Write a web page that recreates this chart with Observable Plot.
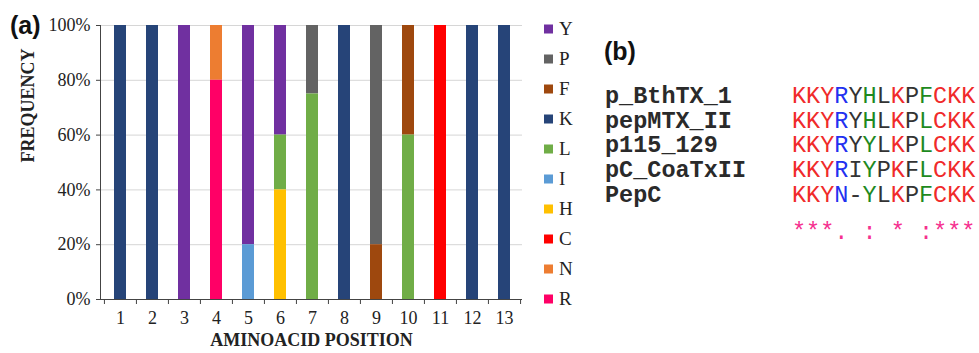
<!DOCTYPE html>
<html><head><meta charset="utf-8">
<script src="https://cdn.jsdelivr.net/npm/d3@7"></script>
<script src="https://cdn.jsdelivr.net/npm/@observablehq/plot@0.6"></script>
<style>
body{margin:0;background:#fff;}
#wrap{position:relative;width:979px;height:353px;overflow:hidden;background:#fff;}
#chart{position:absolute;left:0;top:0;}
#overlay{position:absolute;left:0;top:0;}
.panel-label{position:absolute;font-family:"Liberation Sans",Arial,sans-serif;font-weight:bold;font-size:25px;line-height:1;color:#111;}
</style></head><body>
<div id="wrap">
  <div id="chart"></div>
  <svg id="overlay" width="979" height="353"></svg>
  <div class="panel-label" style="left:10px;top:13px">(a)</div>
  <div class="panel-label" style="left:604px;top:39px">(b)</div>
</div>
<script>
// ---- Panel (a) data ----
const positions = [1,2,3,4,5,6,7,8,9,10,11,12,13];
const aminoAcids = ["Y","P","F","K","L","I","H","C","N","R"]; // legend order
const freqY = [0,0,100,0,80,40,0,0,0,0,0,0,0];
const freqP = [0,0,0,0,0,0,25,0,80,0,0,0,0];
const freqF = [0,0,0,0,0,0,0,0,20,40,0,0,0];
const freqK = [100,100,0,0,0,0,0,100,0,0,0,100,100];
const freqL = [0,0,0,0,0,20,75,0,0,60,0,0,0];
const freqI = [0,0,0,0,20,0,0,0,0,0,0,0,0];
const freqH = [0,0,0,0,0,40,0,0,0,0,0,0,0];
const freqC = [0,0,0,0,0,0,0,0,0,0,100,0,0];
const freqN = [0,0,0,20,0,0,0,0,0,0,0,0,0];
const freqR = [0,0,0,80,0,0,0,0,0,0,0,0,0];
const yTicks = [0,20,40,60,80,100];

// ---- Panel (b) data ----
const seqNames = ["p_BthTX_1","pepMTX_II","p115_129","pC_CoaTxII","PepC"];
const sequences = ["KKYRYHLKPFCKK","KKYRYHLKPLCKK","KKYRYYLKPLCKK","KKYRIYPKFLCKK","KKYN-YLKPFCKK"];
const conservation = "***. : * :***";

// ---- styles ----
const aaColors = ["#7030a0","#636363","#9e480e","#264478","#70ad47","#5b9bd5","#ffc000","#ff0000","#ed7d31","#ff0066"];
const colClass = ["r","r","r","b","k","g","k","r","k","g","r","r","r"];
const classColor = {r:"#f02a2a", b:"#2230f0", g:"#1e8a1e", k:"#333"};

const freqByAA = {Y:freqY,P:freqP,F:freqF,K:freqK,L:freqL,I:freqI,H:freqH,C:freqC,N:freqN,R:freqR};
const table = [];
positions.forEach((p, i) => aminoAcids.forEach(aa => {
  const v = freqByAA[aa][i];
  if (v > 0) table.push({pos: p, aa, freq: v});
}));
const stackOrder = aminoAcids.slice().reverse();

const rangeLeft = 103, rangeRight = 521;
const step = (rangeRight - rangeLeft) / positions.length;

const chart = Plot.plot({
  width: 540, height: 353,
  marginLeft: 100, marginRight: 18, marginTop: 25, marginBottom: 54,
  style: {fontFamily: "Liberation Serif", fontSize: "18px", color: "#222", background: "transparent"},
  x: {domain: positions, insetLeft: 3, insetRight: 1, paddingInner: 0.62, paddingOuter: 0.31, label: null},
  y: {domain: [0, 100], label: null},
  color: {domain: aminoAcids, range: aaColors},
  marks: [
    Plot.gridY({ticks: yTicks.slice(1), stroke: "#d6d6d6", strokeOpacity: 1}),
    Plot.barY(table, {x: "pos", y: "freq", fill: "aa", order: stackOrder}),
    Plot.ruleY([0], {stroke: "#444"}),
    Plot.frame({anchor: "left", stroke: "#444"}),
    Plot.axisY({ticks: yTicks, tickFormat: d => d + "%", tickSize: 4, tickPadding: 6, fontSize: 18, label: null, stroke: "#444"}),
    Plot.axisX({tickSize: 0, tickPadding: 12, fontSize: 18, label: null}),
    Plot.axisX({tickSize: 5, tickFormat: () => "", dx: -step / 2, label: null, stroke: "#444"}),
    Plot.axisX({ticks: [positions[positions.length - 1]], tickSize: 5, tickFormat: () => "", dx: step / 2, label: null, stroke: "#444"}),
    Plot.text(["FREQUENCY"], {frameAnchor: "left", rotate: -90, dx: -72, fontWeight: "bold", fontSize: 18, fill: "#222"}),
    Plot.text(["AMINOACID POSITION"], {frameAnchor: "bottom", dy: 46, fontWeight: "bold", fontSize: 18, fill: "#222"})
  ]
});
document.getElementById("chart").append(chart);

// ---- legend and alignment overlay ----
const svg = d3.select("#overlay");
const lg = svg.append("g");
aminoAcids.forEach((aa, i) => {
  const cy = 29 + i * 30;
  lg.append("rect").attr("x", 544).attr("y", cy - 4.5).attr("width", 9).attr("height", 9).attr("fill", aaColors[i]);
  lg.append("text").attr("x", 559).attr("y", cy).attr("dy", "0.34em")
    .style("font-family", "Liberation Serif").style("font-size", "19px").attr("fill", "#222").text(aa);
});

const rowTop = 103, rowStep = 24.7;
const al = svg.append("g");
seqNames.forEach((n, i) => {
  al.append("text").attr("x", 605).attr("y", rowTop + i * rowStep)
    .style("font-family", "Liberation Mono").style("font-weight", "bold").style("font-size", "23.5px")
    .attr("fill", "#2a2a2a").text(n);
  const t = al.append("text").attr("x", 792).attr("y", rowTop + i * rowStep)
    .style("font-family", "Liberation Mono").style("font-size", "23.5px");
  sequences[i].split("").forEach((c, j) => {
    t.append("tspan").attr("fill", classColor[colClass[j]]).text(c);
  });
});
al.append("text").attr("x", 792).attr("y", 239).attr("xml:space", "preserve")
  .style("white-space", "pre")
  .style("font-family", "Liberation Mono").style("font-size", "23.5px").attr("fill", "#f5308f")
  .text(conservation);
</script>
</body></html>
